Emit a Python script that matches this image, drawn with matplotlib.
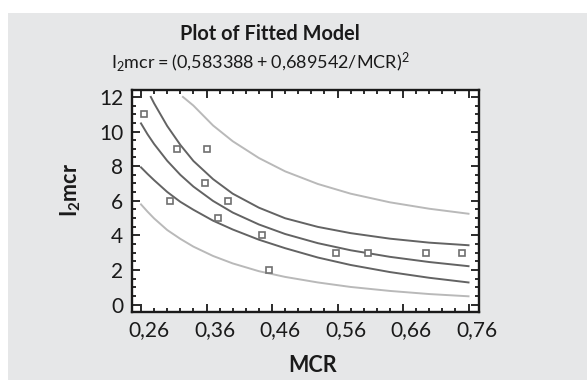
import matplotlib
matplotlib.use('Agg')
import matplotlib.pyplot as plt
import matplotlib.transforms as mtransforms
from matplotlib.patches import Rectangle
from matplotlib.ticker import MultipleLocator

plt.rcParams['font.family'] = ['Lato', 'DejaVu Sans']

# observed points
mcr = [0.264, 0.304, 0.315, 0.357, 0.361, 0.377, 0.393, 0.444, 0.456, 0.557, 0.607, 0.695, 0.750]
l2mcr = [11, 6, 9, 7, 9, 5, 6, 4, 2, 3, 3, 3, 3]

# curves
curve_x = [0.26, 0.27, 0.28, 0.30, 0.32, 0.34, 0.37, 0.40, 0.44, 0.48, 0.53, 0.58, 0.64, 0.70, 0.76]
fit = [10.47, 9.84, 9.28, 8.31, 7.50, 6.82, 5.99, 5.32, 4.63, 4.08, 3.55, 3.14, 2.76, 2.46, 2.22]
lower_conf = [7.93, 7.55, 7.19, 6.51, 5.94, 5.48, 4.85, 4.34, 3.75, 3.26, 2.72, 2.29, 1.88, 1.55, 1.28]
lower_pred = [5.79, 5.37, 4.98, 4.31, 3.80, 3.35, 2.81, 2.38, 1.93, 1.60, 1.28, 1.02, 0.79, 0.61, 0.48]
upper_conf_x = [0.275, 0.28, 0.30, 0.32, 0.34, 0.37, 0.40, 0.44, 0.48, 0.53, 0.58, 0.64, 0.70, 0.76]
upper_conf = [12.0, 11.63, 10.32, 9.23, 8.30, 7.25, 6.41, 5.60, 4.99, 4.49, 4.13, 3.81, 3.58, 3.43]
upper_pred_x = [0.324, 0.34, 0.37, 0.40, 0.44, 0.48, 0.53, 0.58, 0.64, 0.70, 0.76]
upper_pred = [12.0, 11.50, 10.35, 9.44, 8.47, 7.70, 6.97, 6.41, 5.91, 5.54, 5.25]

xticks = [0.26, 0.36, 0.46, 0.56, 0.66, 0.76]
xticklabels = ['0,26', '0,36', '0,46', '0,56', '0,66', '0,76']
yticks = [0, 2, 4, 6, 8, 10, 12]

W, H = 587, 380
fig = plt.figure(figsize=(W / 100, H / 100), dpi=100, facecolor='white')
fig.patches.append(Rectangle((8 / W, 0), 1 - 8 / W, 1 - 13 / H, transform=fig.transFigure,
                             facecolor='#e6e7e8', edgecolor='none', zorder=-10))

ax = fig.add_axes([131.7 / W, 1 - 311.7 / H, (479 - 131.7) / W, (311.7 - 90) / H])
ax.set_facecolor('white')

dark = '#636363'
light = '#b9b9b9'
ax.plot(curve_x, lower_pred, color=light, lw=1.4)
ax.plot(upper_pred_x, upper_pred, color=light, lw=1.4)
ax.plot(curve_x, lower_conf, color=dark, lw=1.4)
ax.plot(upper_conf_x, upper_conf, color=dark, lw=1.4)
ax.plot(curve_x, fit, color=dark, lw=1.4)
ax.plot(mcr, l2mcr, ls='none', marker='s', ms=4, mfc='white', mec='#707070', mew=1.2)

ax.set_xlim(0.2458, 0.776)
ax.set_ylim(-0.41, 12.40)
ax.set_xticks(xticks)
ax.set_xticklabels(xticklabels)
ax.set_yticks(yticks)
ax.xaxis.set_minor_locator(MultipleLocator(0.02))
ax.yaxis.set_minor_locator(MultipleLocator(0.5))
ax.tick_params(which='both', direction='in', top=True, right=True, width=1.3, color='#1a1a1a')
ax.tick_params(which='major', length=5.5, labelsize=15, labelcolor='#1a1a1a', pad=6)
ax.tick_params(which='minor', length=2.8)
for s in ax.spines.values():
    s.set_linewidth(1.7)
    s.set_color('#1a1a1a')

shift = mtransforms.ScaledTranslation(8 / 100, 0, fig.dpi_scale_trans)
for lab in ax.get_xticklabels():
    lab.set_transform(lab.get_transform() + shift)

ax.set_xlabel('MCR', fontsize=15.5, fontweight='bold', color='#1a1a1a')
ax.xaxis.set_label_coords((313 - 131.7) / (479 - 131.7), -(371.7 - 311.7) / (311.7 - 90))
ax.xaxis.label.set_va('baseline')
ax.set_ylabel(r'$\mathregular{I_2mcr}$', fontsize=15.5, fontweight='bold', color='#1a1a1a')
ax.yaxis.set_label_coords(-(131.7 - 71) / (479 - 131.7), (311.7 - 190) / (311.7 - 90))
ax.yaxis.label.set_va('center')

fig.text(269.5 / W, 1 - 40 / H, 'Plot of Fitted Model', ha='center', va='baseline',
         fontsize=14.3, fontweight='bold', color='#1a1a1a')
fig.text(260.5 / W, 1 - 68 / H,
         r'$\mathregular{I_2mcr=(0{,}583388+0{,}689542/MCR)^2}$',
         ha='center', va='baseline', fontsize=13, color='#1a1a1a')

fig.savefig('out.png', dpi=100, facecolor=fig.get_facecolor())
